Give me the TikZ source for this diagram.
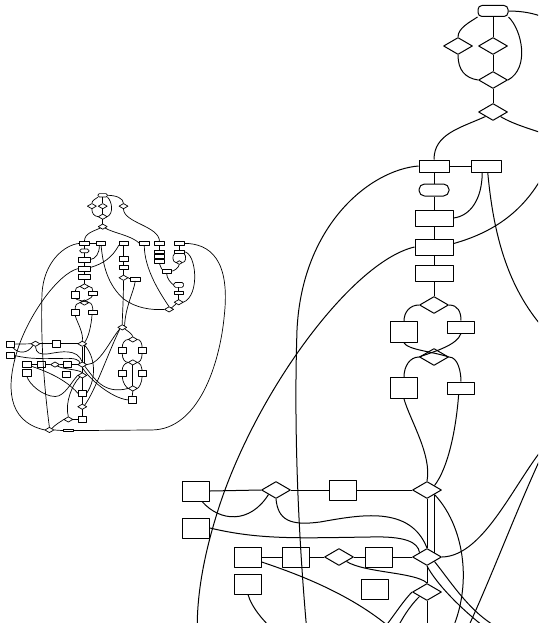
\documentclass[tikz,border=0pt]{standalone}
\usetikzlibrary{shapes.geometric}
\tikzset{
 bx/.style={draw, rectangle, inner sep=0pt},
 rndA/.style={rounded corners=4pt},
 rndB/.style={rounded corners=5.5pt},
 rr/.style={bx, rndA},
 st/.style={bx, rndB},
 dm/.style={draw, diamond, inner sep=0pt, minimum width=29, minimum height=17},
 sm/.style={draw, diamond, inner sep=0pt, minimum width=20, minimum height=12},
 s30/.style={bx, minimum width=30, minimum height=12},
 s38/.style={bx, minimum width=38, minimum height=16},
 s27/.style={bx, minimum width=27, minimum height=20},
 s27r/.style={bx, minimum width=27, minimum height=21},
 s27f/.style={bx, minimum width=27, minimum height=12},
}
\newcommand\fullgraph[1]{%
% ---------- top cluster
\node[rr, minimum width=30, minimum height=11] (#1T0) at (493,11) {};
\node[dm] (#1D1) at (458,46) {};
\node[dm] (#1D2) at (493,46) {};
\node[dm] (#1D3) at (493,80) {};
\node[dm] (#1D4) at (493,112) {};
\node[dm] (#1Dr1) at (560,46) {};
% ---------- row of boxes
\node[s30] (#1R1) at (434,166) {};
\node[s30] (#1R2) at (486,166) {};
\node[s30] (#1Rc) at (560,166) {};
\node[s30] (#1Rb) at (627,166) {};
\node[s30] (#1Ra) at (676,166) {};
\node[s30] (#1Rd) at (740,166) {};
% ---------- main column
\node[st, minimum width=30, minimum height=12] (#1O1) at (434,190) {};
\node[s38] (#1R3) at (434,218) {};
\node[s38] (#1R4) at (434,247) {};
\node[s38] (#1R5) at (434,273) {};
\node[dm] (#1D5) at (434,305) {};
\node[s27r] (#1R6) at (404,332) {};
\node[s27f] (#1R7) at (461,327) {};
\node[dm] (#1D6) at (434,357) {};
\node[s27r] (#1R8) at (404,388) {};
\node[s27f] (#1R9) at (461,388) {};
% ---------- column under Rc
\node[bx, minimum width=30, minimum height=13] (#1Rc1) at (560,216) {};
\node[bx, minimum width=30, minimum height=13] (#1Rc2) at (560,244) {};
\node[dm] (#1Dc) at (560,277) {};
\node[s30] (#1Rc3) at (598,281) {};
% ---------- column under Ra
\node[s30] (#1Ra1) at (676,193) {};
\node[s30] (#1Ra2) at (676,209) {};
\node[s30] (#1Ra3) at (676,225) {};
% ---------- column under Rd
\node[s30] (#1Rd1) at (740,193) {};
\node[sm] (#1Dd1) at (740,228) {};
\node[s30] (#1Rd2) at (699,256) {};
\node[st, minimum width=32, minimum height=16] (#1O2) at (738,300) {};
\node[bx, minimum width=30, minimum height=10] (#1Rd3) at (738,325) {};
\node[dm] (#1Dd2) at (738,356) {};
\node[dm] (#1Dd) at (707,379) {};
% ---------- lower part
\node[dm] (#1D7) at (427,490) {};
\node[s27] (#1R10) at (196,491) {};
\node[dm] (#1D8) at (276,490) {};
\node[s27] (#1R11) at (343,490) {};
\node[s27] (#1R12) at (196,528) {};
\node[s27] (#1R13) at (248,557) {};
\node[s27] (#1R14) at (296,557) {};
\node[dm] (#1D9) at (339,557) {};
\node[s27] (#1R16) at (379,557) {};
\node[dm] (#1D10) at (427,557) {};
\node[s27] (#1R15) at (248,584) {};
\node[s27] (#1R17) at (375,589) {};
\node[dm] (#1D11) at (427,592) {};
\node[s27] (#1R18) at (427,650) {};
\node[dm] (#1D12) at (427,693) {};
\node[s27] (#1R19) at (427,734) {};
\node[dm] (#1D13) at (382,734) {};
\node[dm] (#1D14) at (321,768) {};
\node[bx, minimum width=30, minimum height=7] (#1R20) at (382,770) {};
% ---------- right group
\node[dm] (#1Dg1) at (556,437) {};
\node[dm] (#1Dg2) at (590,476) {};
\node[s27] (#1Rg1) at (556,512) {};
\node[s27] (#1Rg2) at (620,512) {};
\node[dm] (#1Dg3) at (590,550) {};
\node[s27] (#1Rg3) at (556,585) {};
\node[s27] (#1Rg4) at (620,585) {};
\node[dm] (#1Dg4) at (590,634) {};
\node[s27] (#1Rg5) at (588,671) {};
% ================= connectors
\draw (#1T0.south west) .. controls (470,22) and (458,28) .. (#1D1.north);
\draw (#1T0.south) -- (#1D2.north);
\draw (#1T0.south east) .. controls (522,30) and (530,68) .. (#1D3.east);
\draw (#1D1.south) .. controls (458,70) and (465,78) .. (#1D3.west);
\draw (#1D2.south) -- (#1D3.north);
\draw (#1D3.south) -- (#1D4.north);
\draw (#1D4.south west) .. controls (460,128) and (434,134) .. (#1R1.north);
\draw (#1D4.south east) .. controls (525,132) and (585,140) .. (#1Rb.west);
\draw (#1T0.east) .. controls (535,11) and (560,20) .. (#1Dr1.north);
\draw (#1Dr1.south) .. controls (560,100) and (676,110) .. (#1Ra.north);
\draw (#1R1.east) -- (#1R2.west);
\draw (#1R1.south) -- (#1O1.north);
\draw (#1O1.south) -- (#1R3.north);
\draw (#1R3.south) -- (#1R4.north);
\draw (#1R4.south) -- (#1R5.north);
\draw (#1R5.south) -- (#1D5.north);
\draw (#1R2.-120) .. controls (482,200) and (470,216) .. (#1R3.east);
\draw (#1R2.-75) .. controls (494,240) and (510,300) .. (560,345) .. controls (600,375) and (650,382) .. (#1Dd.west);
\draw (#1R1.west) .. controls (370,170) and (302,225) .. (297,330) .. controls (293,450) and (300,600) .. (#1D14.north);
\draw (#1R4.west) .. controls (350,262) and (250,400) .. (215,520) .. controls (185,620) and (180,740) .. (#1D14.west);
\draw (#1R4.10) .. controls (495,232) and (525,210) .. (#1Rc.south west);
% D5 / D6 group
\draw (#1D5.west) .. controls (410,305) and (404,312) .. (#1R6.north);
\draw (#1D5.east) .. controls (458,305) and (461,312) .. (#1R7.north);
\draw (#1R6.south) .. controls (409,350) and (430,351) .. (#1D6.east);
\draw (#1R7.south) .. controls (457,345) and (436,351) .. (#1D6.west);
\draw (#1D6.west) .. controls (410,357) and (404,366) .. (#1R8.north);
\draw (#1D6.east) .. controls (458,357) and (461,372) .. (#1R9.north);
\draw (#1R8.south) .. controls (410,420) and (432,455) .. (#1D7.north);
\draw (#1R9.-110) .. controls (456,430) and (448,468) .. (#1D7.north east);
\draw (#1D7.south) -- (#1D10.north);
\draw (#1D7.south east) -- (#1D10.north east);
\draw (#1D7.south east) .. controls (468,530) and (475,600) .. (#1R18.east);
% lower rows
\draw (#1R10.east) -- (#1D8.west);
\draw (#1D8.east) -- (#1R11.west);
\draw (#1R11.east) -- (#1D7.west);
\draw (#1R10.-60) .. controls (220,522) and (250,524) .. (#1D8.south west);
\draw (#1D8.south) .. controls (278,520) and (290,526) .. (320,522) .. controls (360,515) and (410,505) .. (#1D10.north);
\draw (#1R12.east) .. controls (260,540) and (300,538) .. (370,537) .. controls (405,536) and (418,542) .. (#1D10.north west);
\draw (#1R13.east) -- (#1R14.west);
\draw (#1R14.east) -- (#1D9.west);
\draw (#1D9.east) -- (#1R16.west);
\draw (#1R16.east) -- (#1D10.west);
\draw (#1D9.south east) .. controls (365,573) and (415,572) .. (#1D11.north);
\draw (#1D10.south) -- (#1D11.north);
\draw (#1D10.east) .. controls (485,556) and (515,480) .. (#1Dg1.south west);
\draw (#1Dg1.south west) .. controls (510,520) and (470,640) .. (#1D12.north east);
\draw (#1D10.south east) .. controls (465,600) and (495,655) .. (#1Dg4.west);
\draw (#1D10.south) .. controls (445,600) and (520,665) .. (#1Rg5.west);
\draw (#1D11.south) -- (#1R18.north);
\draw (#1R18.south) -- (#1D12.north);
\draw (#1D12.south) -- (#1R19.north);
\draw (#1D13.east) -- (#1R19.west);
\draw (#1D14.north east) .. controls (340,750) and (360,740) .. (#1D13.west);
\draw (#1D14.east) -- (#1R20.west);
\draw (#1R13.-20) .. controls (300,575) and (370,600) .. (#1R18.west);
\draw (#1R15.south) .. controls (255,620) and (300,660) .. (340,660) .. controls (370,660) and (392.5,612) .. (#1D11.west);
\draw (#1D11.south west) .. controls (395,620) and (370,680) .. (#1D13.north);
% right group
\draw (#1Dg1.south east) .. controls (575,450) and (588,458) .. (#1Dg2.north);
\draw (#1Dg2.west) .. controls (562,476) and (556,490) .. (#1Rg1.north);
\draw (#1Dg2.east) .. controls (615,476) and (620,490) .. (#1Rg2.north);
\draw (#1Rg1.south) .. controls (556,540) and (565,550) .. (#1Dg3.west);
\draw (#1Rg2.south) .. controls (620,540) and (612,550) .. (#1Dg3.east);
\draw (#1Dg3.west) .. controls (562,553) and (556,565) .. (#1Rg3.north);
\draw (#1Dg3.east) .. controls (615,553) and (620,565) .. (#1Rg4.north);
\draw (#1Dg3.south) -- (#1Dg4.north);
\draw (#1Rg3.south) .. controls (556,615) and (570,632) .. (#1Dg4.west);
\draw (#1Rg4.south) .. controls (620,615) and (610,632) .. (#1Dg4.east);
\draw (#1Dg4.south) -- (#1Rg5.north);
% Rc column
\draw (#1Rc.south) -- (#1Rc1.north);
\draw (#1Rc1.south) -- (#1Rc2.north);
\draw (#1Rc2.south) -- (#1Dc.north);
\draw (#1Dc.east) -- (#1Rc3.west);
\draw (#1Dc.south) .. controls (560,350) and (556,400) .. (#1Dg1.north);
\draw (#1Rc3.south) .. controls (594,320) and (566,370) .. (#1Dg1.north east);
% Ra column
\draw (#1Ra.south) -- (#1Ra1.north);
\draw (#1Ra1.south) -- (#1Ra2.north);
\draw (#1Ra2.south) -- (#1Ra3.north);
\draw (#1Ra3.south) .. controls (676,240) and (684,244) .. (#1Rd2.north west);
\draw (#1Rb.south) .. controls (627,250) and (680,330) .. (#1Dd.north);
% Rd column
\draw (#1Rd.south) -- (#1Rd1.north);
\draw (#1Rd1.south west) .. controls (716,205) and (718,228) .. (#1Dd1.west);
\draw (#1Rd1.south east) .. controls (764,205) and (762,228) .. (#1Dd1.east);
\draw (#1Dd1.south) .. controls (738,245) and (722,256) .. (#1Rd2.east);
\draw (#1Rd2.south) .. controls (699,280) and (715,296) .. (#1O2.west);
\draw (#1O2.south) -- (#1Rd3.north);
\draw (#1Rd3.south) -- (#1Dd2.north);
\draw (#1Dd2.south west) -- (#1Dd.north east);
\draw (#1Rd1.east) .. controls (795,195) and (808,335) .. (#1Dd2.east);
\draw (#1Rd.east) .. controls (840,166) and (905,220) .. (885,400) .. controls (870,560) and (800,768) .. (650,768) -- (#1R20.east);
}

\begin{document}
\begin{tikzpicture}[x=1pt,y=-1pt,line join=round]
\useasboundingbox (0,0) rectangle (538,623);
\begin{scope}[line width=1pt]
  \clip (0,0) rectangle (538,623);
  \fullgraph{a}
\end{scope}
\begin{scope}[shift={(-50.1,191.9)}, scale=0.31, transform shape, line width=0.7pt,
  rndA/.style={rounded corners=1.3pt}, rndB/.style={rounded corners=1.7pt}]
  \fullgraph{b}
\end{scope}
\end{tikzpicture}
\end{document}
